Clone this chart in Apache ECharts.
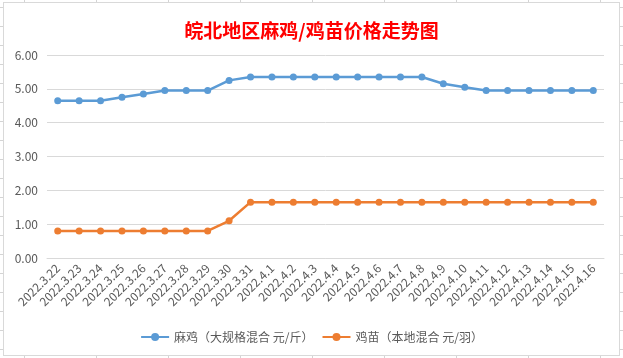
<!DOCTYPE html>
<html>
<head>
<meta charset="utf-8">
<script src="https://cdn.jsdelivr.net/npm/echarts@6/dist/echarts.min.js"></script>
<style>
html,body{margin:0;padding:0;width:623px;height:358px;overflow:hidden;background:#fff;}
#sheet{position:absolute;left:0;top:0;width:623px;height:358px;
background-image:
 repeating-linear-gradient(to right, transparent 0, transparent 24px, #d4d4d4 24px, #d4d4d4 25px, transparent 25px, transparent 72px),
 repeating-linear-gradient(to bottom, transparent 0, transparent 7px, #d4d4d4 7px, #d4d4d4 8px, transparent 8px, transparent 19px);
background-size:72px 100%, 100% 19px;}
#frame{position:absolute;left:3px;top:2px;width:615px;height:352px;background:#fff;border:1px solid #d9d9d9;}
#chart{position:absolute;left:0;top:0;width:623px;height:358px;}
</style>
</head>
<body>
<div id="sheet"></div>
<div id="frame"></div>
<div id="chart"></div>
<script>
const categories = ['2022.3.22','2022.3.23','2022.3.24','2022.3.25','2022.3.26','2022.3.27','2022.3.28','2022.3.29','2022.3.30','2022.3.31','2022.4.1','2022.4.2','2022.4.3','2022.4.4','2022.4.5','2022.4.6','2022.4.7','2022.4.8','2022.4.9','2022.4.10','2022.4.11','2022.4.12','2022.4.13','2022.4.14','2022.4.15','2022.4.16'];
const majiValues = [4.65,4.65,4.65,4.75,4.85,4.95,4.95,4.95,5.25,5.35,5.35,5.35,5.35,5.35,5.35,5.35,5.35,5.35,5.15,5.05,4.95,4.95,4.95,4.95,4.95,4.95];
const jimiaoValues = [0.8,0.8,0.8,0.8,0.8,0.8,0.8,0.8,1.1,1.65,1.65,1.65,1.65,1.65,1.65,1.65,1.65,1.65,1.65,1.65,1.65,1.65,1.65,1.65,1.65,1.65];
const seriesNames = ['麻鸡（大规格混合 元/斤）','鸡苗（本地混合 元/羽）'];
const titleText = '皖北地区麻鸡/鸡苗价格走势图';

const chart = echarts.init(document.getElementById('chart'));
const font = '"Microsoft YaHei","Noto Sans CJK SC","Noto Sans",sans-serif';
chart.setOption({
  animation: false,
  title: {
    text: titleText, left: 'center', top: 16,
    textStyle: {color: '#ff0000', fontSize: 19, fontWeight: 'bold', fontFamily: '"Noto Sans CJK SC",serif'}
  },
  legend: {
    bottom: 10, left: 'center', itemWidth: 28, itemHeight: 10, itemGap: 8,
    textStyle: {color: '#595959', fontSize: 12, fontFamily: font},
    data: seriesNames
  },
  grid: {left: 47, right: 19, top: 55, bottom: 100, containLabel: false},
  xAxis: {
    type: 'category', data: categories, boundaryGap: true,
    axisLine: {lineStyle: {color: '#d9d9d9'}},
    axisTick: {show: false},
    axisLabel: {rotate: 45, interval: 0, color: '#595959', fontSize: 12, margin: 8, fontFamily: font}
  },
  yAxis: {
    type: 'value', min: 0, max: 6, interval: 1,
    axisLine: {show: false}, axisTick: {show: false},
    splitLine: {lineStyle: {color: '#d9d9d9'}},
    axisLabel: {color: '#595959', fontSize: 12, margin: 9, fontFamily: font, formatter: v => v.toFixed(2)}
  },
  series: [
    {name: seriesNames[0], type: 'line', data: majiValues, symbol: 'circle', symbolSize: 7,
     lineStyle: {width: 2.5, color: '#5B9BD5'}, itemStyle: {color: '#5B9BD5'}},
    {name: seriesNames[1], type: 'line', data: jimiaoValues, symbol: 'circle', symbolSize: 7,
     lineStyle: {width: 2.5, color: '#ED7D31'}, itemStyle: {color: '#ED7D31'}}
  ]
});
</script>
</body>
</html>
